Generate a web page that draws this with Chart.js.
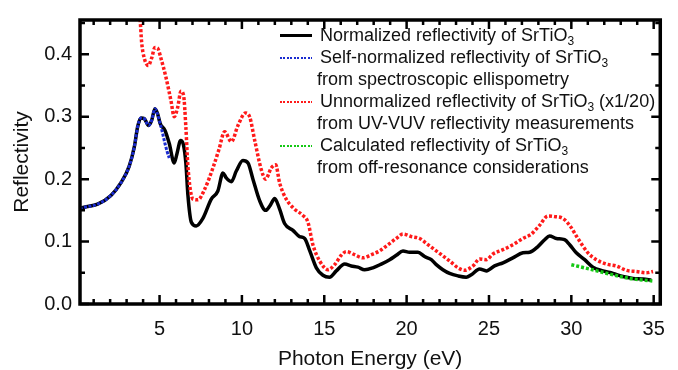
<!DOCTYPE html>
<html>
<head>
<meta charset="utf-8">
<script src="https://cdn.jsdelivr.net/npm/chart.js@4"></script>
<style>
  html, body { margin: 0; padding: 0; background: #fff; }
  #wrap { position: relative; width: 678px; height: 370px; }
  #legend {
    position: absolute; left: 276px; top: 24px;
    font-family: "Liberation Sans", Arial, sans-serif; font-size: 18px; color: #111;
  }
  #legend .row { position: relative; height: 22px; line-height: 22px; white-space: nowrap; }
  #legend .txt { position: absolute; left: 44px; top: 0; }
  #legend .cont { left: 41px; }
  #legend .swatch { position: absolute; left: 4px; top: 11px; width: 32px; height: 2px; }
  #legend sub { font-size: 12px; vertical-align: -4px; line-height: 0; }
</style>
</head>
<body>
<div id="wrap">
  <canvas id="chart" width="678" height="370"></canvas>
  <div id="legend">
    <div class="row"><span class="swatch" style="background:#000;height:3px;top:10px"></span><span class="txt">Normalized reflectivity of SrTiO<sub>3</sub></span></div>
    <div class="row"><span class="swatch" style="background:repeating-linear-gradient(90deg,#1a2bd0 0 2px,transparent 2px 3.5px)"></span><span class="txt">Self-normalized reflectivity of SrTiO<sub>3</sub></span></div>
    <div class="row"><span class="txt cont">from spectroscopic ellispometry</span></div>
    <div class="row"><span class="swatch" style="background:repeating-linear-gradient(90deg,#ff1a1a 0 2px,transparent 2px 3.5px)"></span><span class="txt">Unnormalized reflectivity of SrTiO<sub>3</sub> (x1/20)</span></div>
    <div class="row"><span class="txt cont">from UV-VUV reflectivity measurements</span></div>
    <div class="row"><span class="swatch" style="background:repeating-linear-gradient(90deg,#14c814 0 2px,transparent 2px 3.5px)"></span><span class="txt">Calculated reflectivity of SrTiO<sub>3</sub></span></div>
    <div class="row"><span class="txt cont">from off-resonance considerations</span></div>
  </div>
</div>
<script>
/* Reflectivity of SrTiO3 vs photon energy */

const energyNorm = [0.15, 0.43, 1.24, 2.05, 2.65, 3.16, 3.47, 3.67, 3.87, 4.07, 4.34, 4.52, 4.72, 4.88, 5.04, 5.33, 5.59, 5.89, 6.05, 6.28, 6.45, 6.60, 6.72, 6.93, 7.23, 7.63, 8.14, 8.54, 8.85, 9.05, 9.36, 9.66, 10.06, 10.37, 10.67, 11.07, 11.44, 11.72, 11.99, 12.29, 12.59, 13.10, 13.50, 13.81, 14.11, 14.52, 14.92, 15.32, 15.73, 16.24, 16.64, 17.04, 17.45, 17.95, 18.46, 18.97, 19.37, 19.78, 20.18, 20.69, 21.09, 21.50, 21.80, 22.20, 22.61, 23.12, 23.62, 23.93, 24.43, 24.84, 25.34, 25.85, 26.45, 27.06, 27.47, 27.97, 28.38, 28.68, 29.09, 29.59, 29.90, 30.30, 30.81, 31.31, 31.92, 32.53, 33.13, 33.74, 34.35, 34.86];
const reflNorm   = [0.153, 0.155, 0.160, 0.174, 0.194, 0.221, 0.252, 0.284, 0.298, 0.297, 0.286, 0.294, 0.313, 0.305, 0.289, 0.278, 0.257, 0.226, 0.240, 0.262, 0.255, 0.225, 0.175, 0.131, 0.125, 0.137, 0.168, 0.181, 0.210, 0.202, 0.196, 0.213, 0.230, 0.226, 0.200, 0.166, 0.150, 0.158, 0.169, 0.152, 0.129, 0.118, 0.108, 0.105, 0.086, 0.058, 0.046, 0.043, 0.053, 0.064, 0.061, 0.059, 0.055, 0.058, 0.064, 0.071, 0.078, 0.085, 0.083, 0.083, 0.076, 0.071, 0.063, 0.055, 0.049, 0.045, 0.043, 0.047, 0.056, 0.053, 0.061, 0.066, 0.074, 0.082, 0.083, 0.092, 0.103, 0.109, 0.105, 0.103, 0.095, 0.082, 0.071, 0.059, 0.053, 0.049, 0.044, 0.041, 0.040, 0.038];

const energyEllip = [0.15, 0.43, 1.24, 2.05, 2.65, 3.16, 3.47, 3.67, 3.87, 4.07, 4.34, 4.52, 4.72, 4.88, 5.04, 5.19, 5.33, 5.45, 5.59];
const reflEllip   = [0.153, 0.155, 0.160, 0.174, 0.194, 0.221, 0.252, 0.284, 0.298, 0.297, 0.286, 0.294, 0.313, 0.304, 0.289, 0.273, 0.257, 0.245, 0.234];

const energyUnnorm = [3.60, 3.83, 3.91, 4.07, 4.32, 4.52, 4.72, 4.88, 5.08, 5.39, 5.69, 5.89, 6.10, 6.30, 6.46, 6.60, 6.72, 7.03, 7.33, 7.74, 8.24, 8.60, 8.95, 9.36, 9.76, 10.22, 10.47, 10.77, 11.18, 11.44, 11.78, 12.05, 12.29, 12.69, 13.20, 13.70, 14.01, 14.31, 14.72, 15.22, 15.63, 16.03, 16.34, 16.84, 17.35, 17.86, 18.36, 18.87, 19.37, 19.78, 20.29, 20.79, 21.20, 21.60, 22.11, 22.61, 23.12, 23.52, 24.03, 24.43, 24.84, 25.24, 25.85, 26.45, 27.06, 27.57, 28.07, 28.58, 28.98, 29.49, 29.90, 30.40, 31.01, 31.52, 32.13, 32.73, 33.34, 33.95, 34.55, 34.96];
const reflUnnorm   = [0.520, 0.452, 0.420, 0.394, 0.382, 0.394, 0.411, 0.410, 0.394, 0.363, 0.326, 0.300, 0.315, 0.341, 0.334, 0.282, 0.221, 0.168, 0.167, 0.184, 0.218, 0.247, 0.276, 0.260, 0.286, 0.306, 0.300, 0.263, 0.215, 0.200, 0.218, 0.223, 0.194, 0.168, 0.152, 0.142, 0.131, 0.095, 0.069, 0.055, 0.063, 0.078, 0.084, 0.079, 0.074, 0.079, 0.085, 0.095, 0.105, 0.112, 0.108, 0.105, 0.097, 0.089, 0.079, 0.069, 0.058, 0.054, 0.061, 0.072, 0.071, 0.080, 0.087, 0.095, 0.105, 0.112, 0.126, 0.141, 0.140, 0.137, 0.126, 0.105, 0.082, 0.071, 0.064, 0.061, 0.054, 0.052, 0.050, 0.052];

const energyCalc = [30.0, 31.11, 32.33, 33.54, 34.92];
const reflCalc   = [0.063, 0.056, 0.048, 0.041, 0.037];

const xTicks = [5, 10, 15, 20, 25, 30, 35];
const yTicks = [0.0, 0.1, 0.2, 0.3, 0.4];

const FONT = '"Liberation Sans", Arial, sans-serif';

const pts = (xs, ys) => xs.map((x, i) => ({ x, y: ys[i] }));

// frame with inward ticks on all four sides
const frameTicks = {
  id: 'frameTicks',
  afterDatasetsDraw(chart) {
    const { ctx, chartArea: a, scales: { x, y } } = chart;
    ctx.save();
    ctx.strokeStyle = '#000';
    ctx.lineWidth = 2.5;
    ctx.beginPath();
    for (let v = 1; v <= 35; v++) {
      const len = v % 5 === 0 ? 9 : 5;
      const px = x.getPixelForValue(v);
      ctx.moveTo(px, a.bottom); ctx.lineTo(px, a.bottom - len);
      ctx.moveTo(px, a.top);    ctx.lineTo(px, a.top + len);
    }
    for (let k = 0; k <= 9; k++) {
      const len = k % 2 === 0 ? 9 : 5;
      const py = y.getPixelForValue(k * 0.05);
      ctx.moveTo(a.left, py);  ctx.lineTo(a.left + len, py);
      ctx.moveTo(a.right, py); ctx.lineTo(a.right - len, py);
    }
    ctx.stroke();
    ctx.lineWidth = 3.5;
    ctx.strokeRect(a.left, a.top, a.right - a.left, a.bottom - a.top);
    ctx.restore();
  },
};

new Chart(document.getElementById('chart'), {
  type: 'line',
  data: {
    datasets: [{
      label: 'Self-normalized',
      data: pts(energyEllip, reflEllip),
      borderColor: '#1a2bd0', borderWidth: 3, borderDash: [3, 1.5],
      pointRadius: 0, cubicInterpolationMode: 'monotone', order: 1,
    }, {
      label: 'Calculated',
      data: pts(energyCalc, reflCalc),
      borderColor: '#14c814', borderWidth: 3.5, borderDash: [3, 2],
      pointRadius: 0, cubicInterpolationMode: 'monotone', order: 1,
    }, {
      label: 'Unnormalized',
      data: pts(energyUnnorm, reflUnnorm),
      borderColor: '#ff1a1a', borderWidth: 3.5, borderDash: [3, 2],
      pointRadius: 0, cubicInterpolationMode: 'monotone', order: 2,
    }, {
      label: 'Normalized',
      data: pts(energyNorm, reflNorm),
      borderColor: '#000', borderWidth: 3.5,
      pointRadius: 0, cubicInterpolationMode: 'monotone', order: 3,
    }],
  },
  options: {
    responsive: false,
    devicePixelRatio: 1,
    animation: false,
    layout: { padding: { top: 15, right: 17, left: 0, bottom: 0 } },
    plugins: { legend: { display: false }, tooltip: { enabled: false } },
    scales: {
      x: {
        type: 'linear', min: 0.17, max: 35.4,
        grid: { display: false, drawTicks: false }, border: { display: false },
        afterBuildTicks: s => { s.ticks = xTicks.map(v => ({ value: v })); },
        afterFit: s => { s.height = 66; },
        ticks: { color: '#111', padding: 13, font: { family: FONT, size: 20 } },
        title: { display: true, text: 'Photon Energy (eV)', color: '#111',
                 font: { family: FONT, size: 21, lineHeight: 1 }, padding: 0 },
      },
      y: {
        type: 'linear', min: 0, max: 0.455,
        grid: { display: false, drawTicks: false }, border: { display: false },
        afterBuildTicks: s => { s.ticks = yTicks.map(v => ({ value: v })); },
        afterFit: s => { s.width = 80; },
        ticks: { color: '#111', padding: 8, font: { family: FONT, size: 20 },
                 callback: v => v.toFixed(1) },
        title: { display: true, text: 'Reflectivity', color: '#111',
                 font: { family: FONT, size: 21, lineHeight: 1 }, padding: { top: 12, bottom: 0 } },
      },
    },
  },
  plugins: [frameTicks],
});
</script>
</body>
</html>
